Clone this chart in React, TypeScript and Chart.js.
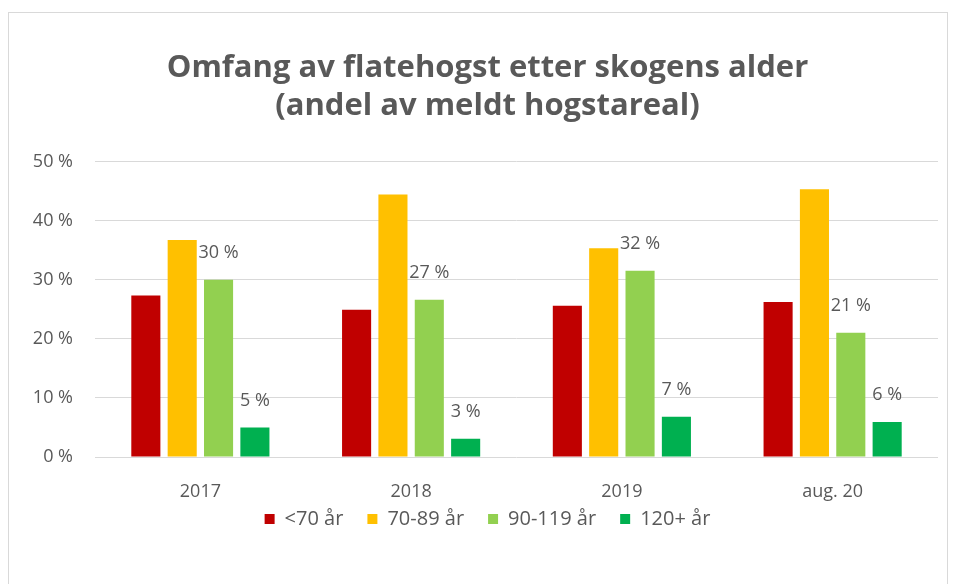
import React, { useEffect, useRef } from "react";
import { Chart, registerables } from "chart.js";

Chart.register(...registerables);

const categories = ["2017", "2018", "2019", "aug. 20"];
const seriesNames = ["<70 år", "70-89 år", "90-119 år", "120+ år"];
const under70 = [27.3, 24.9, 25.6, 26.2];
const from70to89 = [36.7, 44.4, 35.3, 45.3];
const from90to119 = [30.0, 26.6, 31.5, 21.0];
const over120 = [5.0, 3.1, 6.8, 5.9];
const yTicks = [0, 10, 20, 30, 40, 50];
const titleLines = ["Omfang av flatehogst etter skogens alder", "(andel av meldt hogstareal)"];
const colors = ["#C00000", "#FFC000", "#92D050", "#00B050"];
const labelledSeries = [2, 3];

const FONT = "'Open Sans', 'Noto Sans', sans-serif";
const GREY = "#595959";

const dataLabelPlugin = {
  id: "dataLabels",
  afterDatasetsDraw(chart: any) {
    const ctx = chart.ctx;
    ctx.save();
    ctx.font = `18px ${FONT}`;
    ctx.fillStyle = GREY;
    ctx.textAlign = "center";
    ctx.textBaseline = "middle";
    labelledSeries.forEach((di) => {
      const meta = chart.getDatasetMeta(di);
      const ds = chart.data.datasets[di];
      meta.data.forEach((el: any, i: number) => {
        const v = ds.data[i] as number;
        ctx.fillText(`${Math.round(v)} %`, el.x, el.y - 27);
      });
    });
    ctx.restore();
  },
};

// widen the label clip areas of the scales so tick labels are not cut off
const unclipPlugin = {
  id: "unclipLabels",
  afterLayout(chart: any) {
    const x = chart.scales.x;
    const y = chart.scales.y;
    if (x) x.bottom = chart.height;
    if (y) y.left = 0;
  },
};

export default function App() {
  const ref = useRef<HTMLCanvasElement | null>(null);
  useEffect(() => {
    if (!ref.current) return;
    const series = [under70, from70to89, from90to119, over120];
    const chart = new Chart(ref.current, {
      type: "bar",
      data: {
        labels: categories,
        datasets: series.map((d, i) => ({
          label: seriesNames[i],
          data: d,
          backgroundColor: colors[i],
          borderWidth: 0,
          categoryPercentage: 0.69,
          barPercentage: 0.8,
        })),
      },
      options: {
        animation: false,
        responsive: true,
        maintainAspectRatio: false,
        layout: { padding: { left: 28, right: 9, top: 0, bottom: 46 } },
        plugins: {
          title: {
            display: true,
            text: titleLines,
            color: GREY,
            font: { family: FONT, size: 31, weight: "bold", lineHeight: 1.2 },
            padding: { top: 37, bottom: 37 },
          },
          legend: {
            display: true,
            position: "bottom",
            labels: {
              color: GREY,
              font: { family: FONT, size: 20 },
              boxWidth: 10,
              boxHeight: 10,
              padding: 24,
            },
          },
          tooltip: { enabled: false },
        },
        scales: {
          x: {
            grid: { display: false, drawTicks: false },
            border: { display: false },
            ticks: { color: GREY, font: { family: FONT, size: 18 }, padding: 24 },
            afterFit(scale: any) {
              scale.height = 28;
            },
          },
          y: {
            min: 0,
            max: 50,
            afterFit(scale: any) {
              scale.width = 58;
            },
            afterBuildTicks(scale: any) {
              scale.ticks = yTicks.map((v) => ({ value: v }));
            },
            grid: { color: "#d9d9d9", drawTicks: false, lineWidth: 1 },
            border: { display: false },
            ticks: {
              color: GREY,
              font: { family: FONT, size: 18 },
              padding: 22,
              callback: (v: any) => `${v} %`,
            },
          },
        },
      },
      plugins: [dataLabelPlugin, unclipPlugin],
    });
    return () => chart.destroy();
  }, []);
  return (
    <div
      style={{
        width: 940,
        height: 574,
        marginTop: 4,
        border: "1px solid #d9d9d9",
        boxSizing: "border-box",
        position: "relative",
        background: "#fff",
      }}
    >
      <canvas ref={ref} />
    </div>
  );
}
